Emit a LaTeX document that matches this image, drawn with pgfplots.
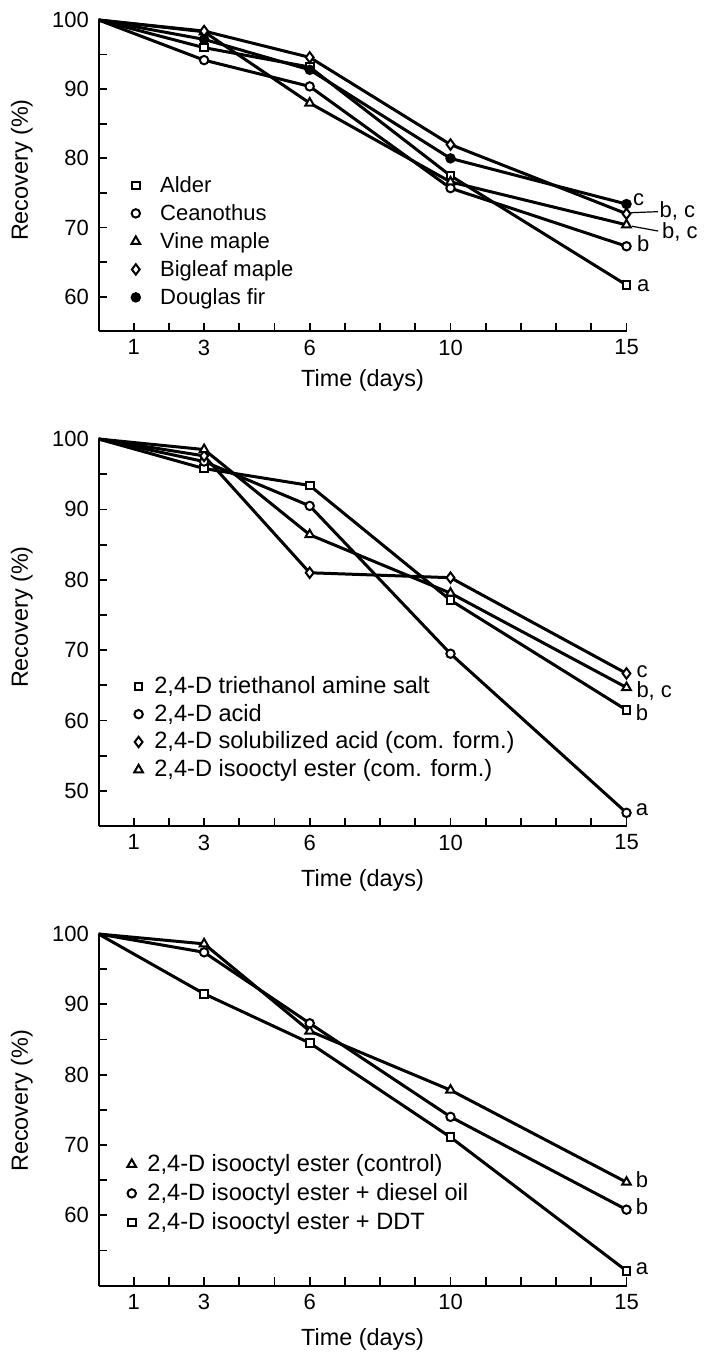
\documentclass[border=0pt]{standalone}
\usepackage{fontspec}
\setmainfont{Liberation Sans}
\usepackage{pgfplots}
\pgfplotsset{compat=1.18}
\newcommand{\ff}{\fontsize{11}{13}\selectfont}
\newcommand{\fl}{\fontsize{11.7}{14}\selectfont}
\newcommand{\fg}{\fontsize{11.8}{14}\selectfont}
\tikzset{lbl/.style={anchor=mid west, inner sep=0pt, font=\ff}}
\pgfplotsset{
  panel/.style={
    scale only axis,
    width=264pt,
    anchor=north west,
    xmin=0, xmax=15, ymax=100,
    axis lines=left,
    axis line style={-, line width=1pt, black},
    tick align=inside,
    major tick length=4.2pt,
    tick style={line width=0.9pt, black},
    xtick={1,...,15},
    xticklabels={1,,3,,,6,,,,10,,,,,15},
    /pgf/number format/assume math mode=true,
    tick label style={font=\ff},
    label style={font=\fl},
    xticklabel style={yshift=-0.7pt},
    yticklabel style={xshift=-1.3pt},
    ylabel={Recovery (\%)},
    xlabel={Time (days)},
    clip=false,
    every axis plot/.append style={line width=1.5pt, black, mark phase=2},
    legend cell align=left,
    legend image code/.code={\draw[#1] plot coordinates {(0pt,0.6pt) (0pt,0.6pt)};},
    legend style={draw=none, fill=none, inner sep=0pt, anchor=north west, font=\ff,
      nodes={text height=7.9pt, text depth=2.3pt, inner ysep=1.8pt, inner xsep=0pt}},
  },
  msq/.style={mark=square*, mark size=1.9pt, mark options={fill=white, line width=1pt, solid}},
  mci/.style={mark=*, mark size=2.1pt, mark options={fill=white, line width=1pt, solid}},
  mtr/.style={mark=triangle*, mark size=2.5pt, mark options={fill=white, line width=1pt, solid}},
  mdi/.style={mark=diamond*, mark size=2.6pt, mark options={fill=white, line width=1pt, solid}},
  mdot/.style={mark=*, mark size=2.1pt, mark options={fill=black, line width=1pt, solid}},
}
\begin{document}
\begin{tikzpicture}
\useasboundingbox (0,0) rectangle (355.5pt,-676.5pt);
% Panel 1
\begin{axis}[panel, at={(49.25pt,-10pt)}, height=155.7pt,
  ymin=55, ytick={60,65,...,100}, yticklabels={60,,70,,80,,90,,100},
  ylabel style={at={(axis description cs:-0.145,0.518)}, anchor=center},
  xlabel style={at={(axis description cs:0.5,0)}, anchor=center, yshift=-24.5pt},
  legend style={at={(axis description cs:0.0617,0.5106)}, column sep=10pt, row sep=0.2pt}]
\addplot[msq] coordinates {(0,100) (3,96.0) (6,93.2) (10,77.5) (15,61.7)};
\addlegendentry{Alder}
\addplot[mci] coordinates {(0,100) (3,94.2) (6,90.4) (10,75.7) (15,67.3)};
\addlegendentry{Ceanothus}
\addplot[mtr] coordinates {(0,100) (3,98.3) (6,88.0) (10,76.6) (15,70.4)};
\addlegendentry{Vine maple}
\addplot[mdi] coordinates {(0,100) (3,98.4) (6,94.6) (10,82.0) (15,72.0)};
\addlegendentry{Bigleaf maple}
\addplot[mdot] coordinates {(0,100) (3,97.2) (6,92.8) (10,80.0) (15,73.4)};
\addlegendentry{Douglas fir}
\node[lbl, xshift=3.1pt] at (axis cs:15,73.9) {c};
\draw[line width=0.6pt] (axis cs:15.13,72.15) -- (axis cs:15.89,72.3);
\node[lbl, xshift=16.4pt] at (axis cs:15,72.15) {b, c};
\draw[line width=0.6pt] (axis cs:15.15,70.2) -- (axis cs:15.9,69.5);
\node[lbl, xshift=17.6pt] at (axis cs:15,69.2) {b, c};
\node[lbl, xshift=5.1pt] at (axis cs:15,67.25) {b};
\node[lbl, xshift=5.1pt] at (axis cs:15,61.55) {a};
\end{axis}
% Panel 2
\begin{axis}[panel, at={(49.25pt,-219.5pt)}, height=193.6pt,
  ymin=45, ytick={50,55,...,100}, yticklabels={50,,60,,70,,80,,90,,100},
  ylabel style={at={(axis description cs:-0.145,0.54)}, anchor=center},
  xlabel style={at={(axis description cs:0.5,0)}, anchor=center, yshift=-27pt},
  legend style={at={(axis description cs:0.067,0.3946)}, column sep=5.7pt, row sep=0.1pt, font=\fg}]
\addplot[msq] coordinates {(0,100) (3,95.8) (6,93.4) (10,77.1) (15,61.5)};
\addlegendentry{2,4-D triethanol amine salt}
\addplot[mci] coordinates {(0,100) (3,96.8) (6,90.5) (10,69.5) (15,46.9)};
\addlegendentry{2,4-D acid}
\addplot[mdi] coordinates {(0,100) (3,97.6) (6,81.0) (10,80.3) (15,66.7)};
\addlegendentry{2,4-D solubilized acid (com. form.)}
\addplot[mtr] coordinates {(0,100) (3,98.5) (6,86.4) (10,78.1) (15,64.7)};
\addlegendentry{2,4-D isooctyl ester (com. form.)}
\node[lbl, xshift=4.8pt] at (axis cs:15,66.9) {c};
\node[lbl, xshift=4.8pt] at (axis cs:15,64.1) {b, c};
\node[lbl, xshift=4.5pt] at (axis cs:15,60.8) {b};
\node[lbl, xshift=4.5pt] at (axis cs:15,47.3) {a};
\end{axis}
% Panel 3
\begin{axis}[panel, at={(49.25pt,-467pt)}, height=175.8pt,
  ymin=50, ytick={55,60,...,100}, yticklabels={,60,,70,,80,,90,,100},
  ylabel style={at={(axis description cs:-0.145,0.525)}, anchor=center},
  xlabel style={at={(axis description cs:0.5,0)}, anchor=center, yshift=-27pt},
  legend style={at={(axis description cs:0.054,0.3817)}, column sep=5.7pt, row sep=0.7pt, font=\fg}]
\addplot[mtr] coordinates {(0,100) (3,98.6) (6,86.2) (10,77.8) (15,64.7)};
\addlegendentry{2,4-D isooctyl ester (control)}
\addplot[mci] coordinates {(0,100) (3,97.4) (6,87.3) (10,74.0) (15,60.8)};
\addlegendentry{2,4-D isooctyl ester + diesel oil}
\addplot[msq] coordinates {(0,100) (3,91.5) (6,84.5) (10,71.1) (15,52.1)};
\addlegendentry{2,4-D isooctyl ester + DDT}
\node[lbl, xshift=4.5pt] at (axis cs:15,64.7) {b};
\node[lbl, xshift=4.5pt] at (axis cs:15,60.8) {b};
\node[lbl, xshift=4.5pt] at (axis cs:15,52.3) {a};
\end{axis}
\end{tikzpicture}
\end{document}
